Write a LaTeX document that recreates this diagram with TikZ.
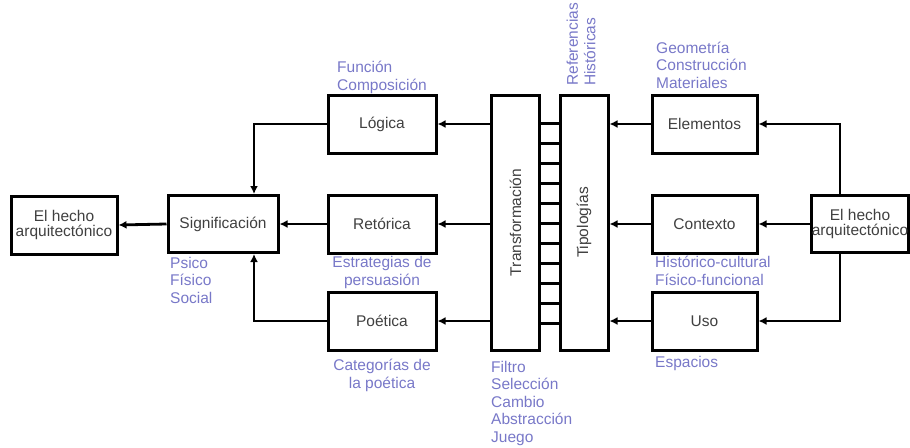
\documentclass[tikz,border=0pt]{standalone}
\usepackage{fontspec}
\setmainfont{Liberation Sans}
\usetikzlibrary{arrows.meta}
\definecolor{lblue}{HTML}{7878C8}
\definecolor{btext}{HTML}{404040}
\begin{document}
\begin{tikzpicture}[x=1pt,y=-1pt,
  box/.style={draw=black, line width=3pt, fill=white, text=btext, align=center,
    inner sep=0pt, font=\fontsize{15.5}{14.5}\selectfont},
  tall/.style={box, minimum width=48pt, minimum height=255pt},
  vtext/.style={rotate=90, text=btext, font=\fontsize{15.5}{15.5}\selectfont},
  lbl/.style={text=lblue, inner sep=0pt, font=\fontsize{15.5}{17.5}\selectfont},
  conn/.style={line width=2.8pt, -{Latex[length=8pt,width=8pt]}},
  rung/.style={line width=3pt}]
\useasboundingbox (0,0) rectangle (910,447);
% boxes
\node[box, minimum width=106pt, minimum height=58pt] (hechoL) at (64,225) {El hecho\\arquitectónico};
\node[box, minimum width=110pt, minimum height=57pt] (sig) at (223,224) {Significación};
\node[box, minimum width=108pt, minimum height=58pt] (log) at (382,124) {Lógica};
\node[box, minimum width=108pt, minimum height=58pt] (ret) at (382,224) {Retórica};
\node[box, minimum width=108pt, minimum height=58pt] (poe) at (382,321) {Poética};
\node[tall] (trans) at (515.5,222.5) {};
\node[vtext] (tTrans) at (trans.center) {Transformación};
\node[tall] (tip) at (584,222.5) {};
\node[vtext] (tTip) at (tip.center) {Tipologías};
\node[box, minimum width=105pt, minimum height=58pt] (ele) at (704.5,124) {Elementos};
\node[box, minimum width=105pt, minimum height=58pt] (con) at (704.5,224) {Contexto};
\node[box, minimum width=105pt, minimum height=58pt] (uso) at (704.5,321) {Uso};
\node[box, minimum width=96pt, minimum height=57pt] (hechoR) at (860,224) {El hecho\\arquitectónico};
% ladder
\foreach \k in {0,...,10}{
  \draw[rung] ([yshift=-30pt-20pt*\k]trans.north east) -- ([yshift=-30pt-20pt*\k]tip.north west);
}
% connectors
\coordinate (vx) at (840,224);
\coordinate (sx) at (254,224);
\draw[conn] (hechoR.west) -- (con.east);
\draw[conn] (hechoR.north -| vx) |- (ele.east);
\draw[conn] (hechoR.south -| vx) |- (uso.east);
\draw[conn] (ele.west) -- (ele.west -| tip.east);
\draw[conn] (con.west) -- (con.west -| tip.east);
\draw[conn] (uso.west) -- (uso.west -| tip.east);
\draw[conn] (log.east -| trans.west) -- (log.east);
\draw[conn] (ret.east -| trans.west) -- (ret.east);
\draw[conn] (poe.east -| trans.west) -- (poe.east);
\draw[conn] (log.west) -| (sx |- sig.north);
\draw[conn] (poe.west) -| (sx |- sig.south);
\draw[conn] (ret.west) -- (sig.east);
\draw[conn] (sig.west) -- (hechoL.east);
% labels (base anchor = baseline of last line)
\node[lbl, anchor=base west, align=left] (lLog) at (337,90) {Función\\Composición};
\node[lbl, anchor=base west, align=left] (lSig) at (170,303) {Psico\\Físico\\Social};
\node[lbl, anchor=base, align=center] (lRet) at (382,285) {Estrategias de\\persuasión};
\node[lbl, anchor=base, align=center] (lPoe) at (382,388) {Categorías de\\la poética};
\node[lbl, anchor=base west, align=left] (lTrans) at (491,442) {Filtro\\Selección\\Cambio\\Abstracción\\Juego};
\node[lbl, anchor=base west, align=left] (lEle) at (656,88) {Geometría\\Construcción\\Materiales};
\node[lbl, anchor=base west, align=left] (lCon) at (655,285) {Histórico-cultural\\Físico-funcional};
\node[lbl, anchor=base west, align=left] (lUso) at (655,367) {Espacios};
\node[lbl, rotate=90, anchor=west, align=left] (lTip) at (581,86) {Referencias\\Históricas};
\end{tikzpicture}
\end{document}
